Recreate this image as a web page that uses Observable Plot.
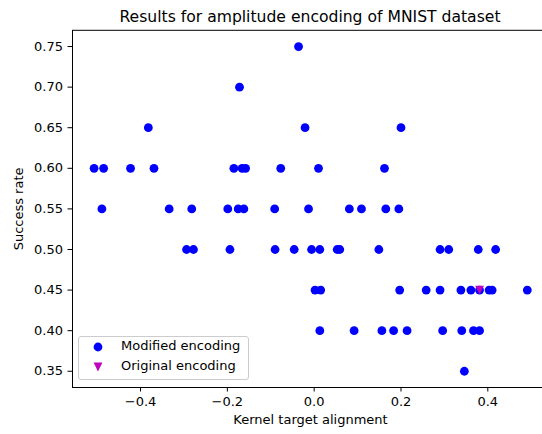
<!DOCTYPE html>
<html>
<head>
<meta charset="utf-8">
<script src="https://cdn.jsdelivr.net/npm/d3@7"></script>
<script src="https://cdn.jsdelivr.net/npm/@observablehq/plot@0.6"></script>
<style>
html, body { margin: 0; padding: 0; background: #fff; overflow: hidden; width: 542px; height: 434px; }
#wrap { position: relative; width: 550px; height: 434px; }
#title { position: relative; z-index: 2; height: 24px; box-sizing: border-box; padding-top: 8.2px; width: 620px;
  text-align: center; font-family: "DejaVu Sans"; font-size: 15.6px; line-height: normal; color: #000; white-space: nowrap; }
#legend { position: absolute; z-index: 3; left: 78px; top: 335.5px; width: 171px; height: 44px; box-sizing: border-box;
  border: 1px solid #cccccc; border-radius: 3px; background: rgba(255,255,255,0.8); }
.lg-text { position: absolute; left: 42px; font-family: "DejaVu Sans"; font-size: 13px; line-height: 16px; color: #000; white-space: nowrap; }
.lg-mark { position: absolute; left: 13.7px; width: 10px; height: 10px; }
</style>
</head>
<body>
<div id="wrap">
  <div id="title"></div>
  <div id="chart"></div>
  <div id="legend"></div>
</div>
<script>
const titleText = "Results for amplitude encoding of MNIST dataset";
const xLabel = "Kernel target alignment";
const yLabel = "Success rate";
const legendLabels = ["Modified encoding", "Original encoding"];
const xTicks = [-0.4, -0.2, 0.0, 0.2, 0.4];
const yTicks = [0.35, 0.40, 0.45, 0.50, 0.55, 0.60, 0.65, 0.70, 0.75];

const modifiedX = [
  -0.036,
  -0.172,
  -0.382, -0.021, 0.200,
  -0.507, -0.485, -0.423, -0.369, -0.185, -0.166, -0.158, -0.077, 0.010, 0.162,
  -0.489, -0.334, -0.282, -0.199, -0.175, -0.162, -0.091, -0.013, 0.081, 0.109, 0.165, 0.195,
  -0.294, -0.278, -0.194, -0.090, -0.046, -0.006, 0.013, 0.053, 0.059, 0.149, 0.290, 0.310, 0.378, 0.418,
  0.002, 0.015, 0.197, 0.258, 0.290, 0.338, 0.361, 0.381, 0.403, 0.410, 0.491,
  0.013, 0.092, 0.156, 0.183, 0.214, 0.296, 0.340, 0.367, 0.381,
  0.346
];
const modifiedY = [
  0.75,
  0.70,
  0.65, 0.65, 0.65,
  0.60, 0.60, 0.60, 0.60, 0.60, 0.60, 0.60, 0.60, 0.60, 0.60,
  0.55, 0.55, 0.55, 0.55, 0.55, 0.55, 0.55, 0.55, 0.55, 0.55, 0.55, 0.55,
  0.50, 0.50, 0.50, 0.50, 0.50, 0.50, 0.50, 0.50, 0.50, 0.50, 0.50, 0.50, 0.50, 0.50,
  0.45, 0.45, 0.45, 0.45, 0.45, 0.45, 0.45, 0.45, 0.45, 0.45, 0.45,
  0.40, 0.40, 0.40, 0.40, 0.40, 0.40, 0.40, 0.40, 0.40,
  0.35
];
const originalX = [0.381];
const originalY = [0.45];

const blue = "#0000ff";
const magenta = "#bf00bf";

const modified = modifiedX.map((x, i) => ({x, y: modifiedY[i]}));
const original = originalX.map((x, i) => ({x, y: originalY[i]}));

const triangleDown = {
  draw(ctx, size) {
    const r = Math.sqrt(size / Math.PI);
    ctx.moveTo(0, r);
    ctx.lineTo(-r, -r);
    ctx.lineTo(r, -r);
    ctx.closePath();
  }
};

const fmtX = d3.format(".1f");
const fmtY = d3.format(".2f");

const chart = Plot.plot({
  width: 550,
  height: 410,
  marginLeft: 72,
  marginRight: 2,
  marginTop: 5.8,
  marginBottom: 47,
  style: {fontFamily: "DejaVu Sans", fontSize: "13px", color: "#000", background: "transparent", maxWidth: "none", overflow: "visible"},
  x: {domain: [-0.5567, 0.5398]},
  y: {domain: [0.33, 0.77]},
  marks: [
    Plot.axisX({ticks: xTicks, tickFormat: fmtX, tickSize: 4.5, tickPadding: 5, label: null, fontSize: 13}),
    Plot.axisY({ticks: yTicks, tickFormat: fmtY, tickSize: 4.5, tickPadding: 5, label: null, fontSize: 13}),
    Plot.dot(modified, {x: "x", y: "y", r: 4.4, fill: blue, stroke: null}),
    Plot.dot(original, {x: "x", y: "y", r: 4.4, symbol: triangleDown, fill: magenta, stroke: null}),
    Plot.frame({stroke: "#000", strokeWidth: 1}),
    Plot.text([xLabel], {frameAnchor: "bottom", dy: 32, lineAnchor: "middle", textAnchor: "middle", fontSize: 13, fill: "#000"}),
    Plot.text([yLabel], {frameAnchor: "left", dx: -54, rotate: -90, lineAnchor: "middle", textAnchor: "middle", fontSize: 13, fill: "#000"})
  ]
});

document.getElementById("title").textContent = titleText;
document.getElementById("chart").appendChild(chart);

// legend
const legend = document.getElementById("legend");
const ns = "http://www.w3.org/2000/svg";
function marker(kind, color, top) {
  const svg = document.createElementNS(ns, "svg");
  svg.setAttribute("class", "lg-mark");
  svg.setAttribute("width", 10); svg.setAttribute("height", 10);
  svg.setAttribute("viewBox", "-5 -5 10 10");
  svg.style.top = top + "px";
  let el;
  if (kind === "circle") {
    el = document.createElementNS(ns, "circle");
    el.setAttribute("r", 4.4);
  } else {
    el = document.createElementNS(ns, "path");
    el.setAttribute("d", "M0,4.4L-4.4,-4.4L4.4,-4.4Z");
  }
  el.setAttribute("fill", color);
  svg.appendChild(el);
  legend.appendChild(svg);
}
function label(text, top) {
  const d = document.createElement("div");
  d.className = "lg-text";
  d.style.top = top + "px";
  d.textContent = text;
  legend.appendChild(d);
}
marker("circle", blue, 5.8);
label(legendLabels[0], 1.2);
marker("triangle", magenta, 25.2);
label(legendLabels[1], 21.2);
</script>
</body>
</html>
